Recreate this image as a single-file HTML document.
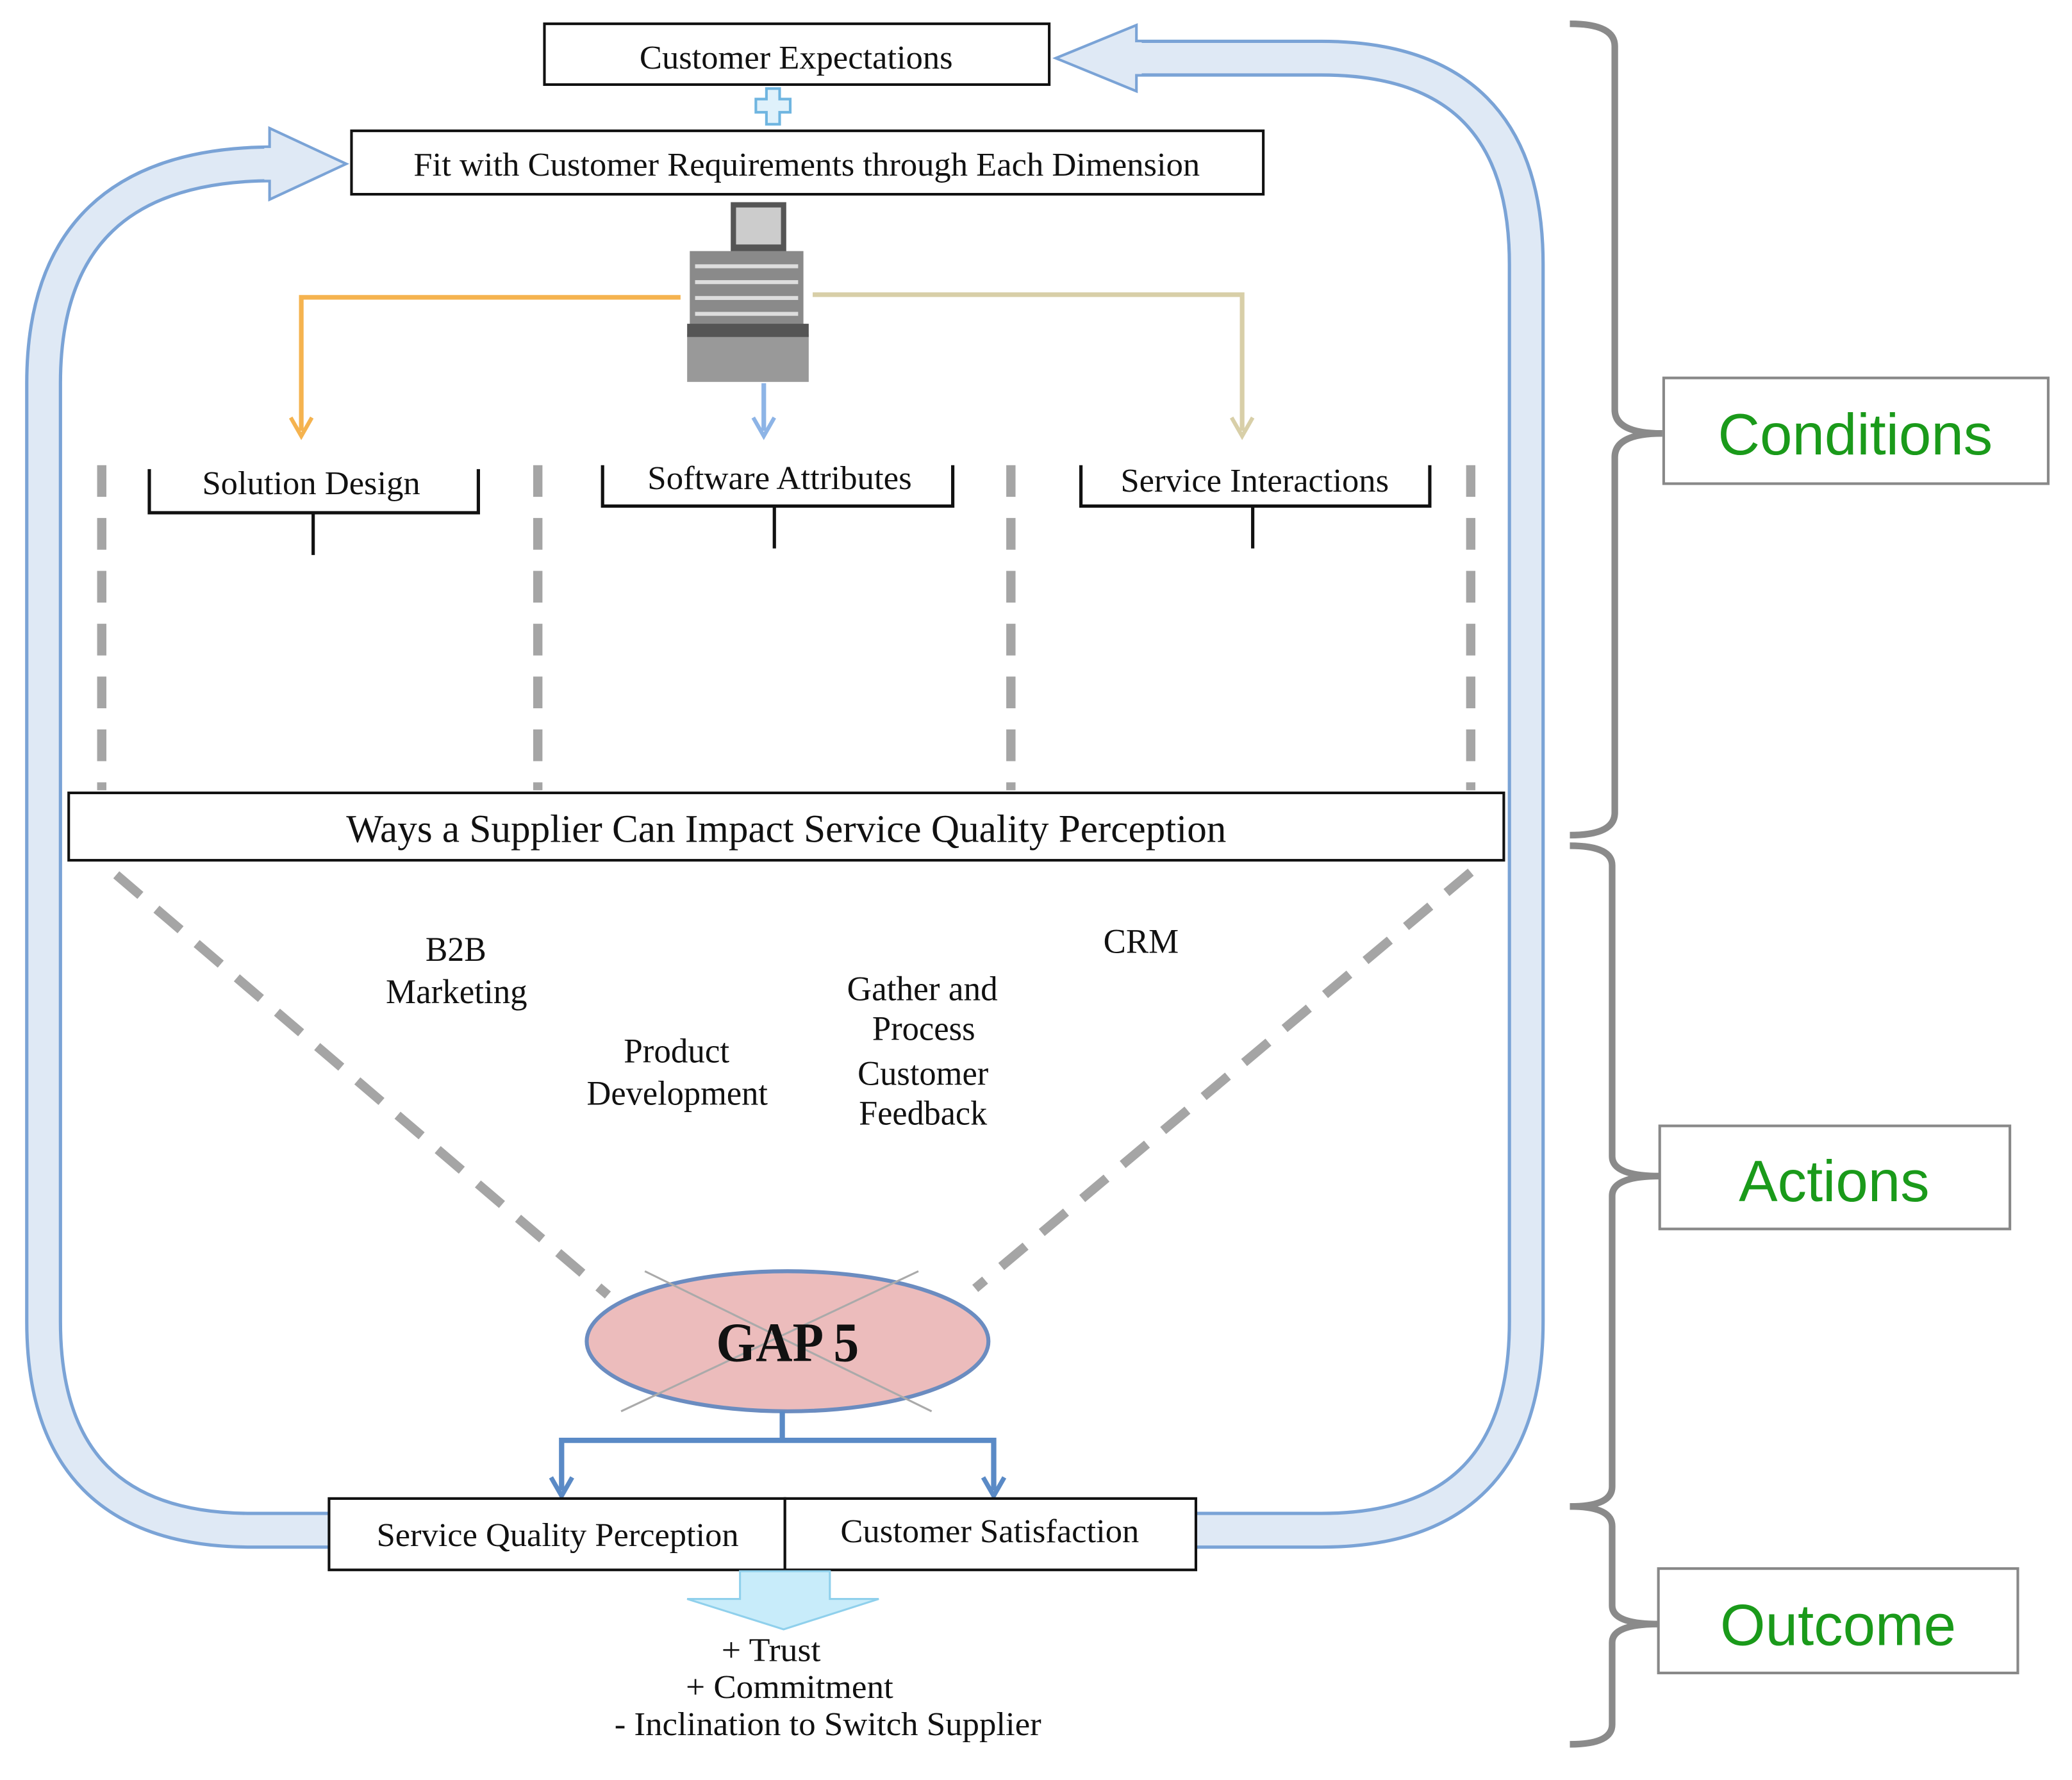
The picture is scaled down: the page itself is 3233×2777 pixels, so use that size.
<!DOCTYPE html>
<html><head><meta charset="utf-8"><style>html,body{margin:0;padding:0;background:#fff}svg{display:block}</style></head>
<body>
<svg width="3233" height="2777" viewBox="0 0 1568 1347" preserveAspectRatio="none" xmlns="http://www.w3.org/2000/svg">
<rect width="1568" height="1347" fill="#fff"/>
<g fill="none" stroke-linejoin="round">
<path d="M 858 44 H 1000 Q 1155 44 1155 200 V 1000 Q 1155 1158 1000 1158 H 905" stroke="#7aa3d6" stroke-width="28"/>
<path d="M 858 44 H 1000 Q 1155 44 1155 200 V 1000 Q 1155 1158 1000 1158 H 905" stroke="#dfe9f5" stroke-width="23"/>
<path d="M 207 124 Q 33 124 33 290 V 1000 Q 33 1158 190 1158 H 249" stroke="#7aa3d6" stroke-width="28"/>
<path d="M 207 124 Q 33 124 33 290 V 1000 Q 33 1158 190 1158 H 249" stroke="#dfe9f5" stroke-width="23"/>
</g>
<polygon points="799,44 860,19 860,69" fill="#dfe9f5" stroke="#7aa3d6" stroke-width="2"/>
<polygon points="262,124 204,97 204,151" fill="#dfe9f5" stroke="#7aa3d6" stroke-width="2"/>
<rect x="856" y="32" width="8" height="24" fill="#dfe9f5"/>
<rect x="200" y="112" width="8" height="24" fill="#dfe9f5"/>
<g font-family="Liberation Serif, serif" fill="#111" lengthAdjust="spacingAndGlyphs">
<rect x="412" y="18" width="382" height="46" fill="#fff" stroke="#111" stroke-width="2"/>
<text x="484" y="52" font-size="25" textLength="237" lengthAdjust="spacingAndGlyphs">Customer Expectations</text>
<polygon points="580,67 590,67 590,75 598,75 598,85 590,85 590,94 580,94 580,85 572,85 572,75 580,75" fill="#dff1fb" stroke="#6fb5e0" stroke-width="2"/>
<rect x="266" y="99" width="690" height="48" fill="#fff" stroke="#111" stroke-width="2"/>
<text x="313" y="133" font-size="25" textLength="595" lengthAdjust="spacingAndGlyphs">Fit with Customer Requirements through Each Dimension</text>
<rect x="553" y="153" width="42" height="38" fill="#555"/>
<rect x="557" y="157" width="34" height="28" fill="#ccc"/>
<rect x="522" y="190" width="86" height="62" fill="#8a8a8a"/>
<g fill="#ddd"><rect x="526" y="200" width="78" height="3"/><rect x="526" y="212" width="78" height="3"/><rect x="526" y="224" width="78" height="3"/><rect x="526" y="236" width="78" height="3"/></g>
<rect x="520" y="253" width="92" height="36" fill="#999"/>
<rect x="520" y="245" width="92" height="10" fill="#555"/>
<path d="M515 225 H228 V326" fill="none" stroke="#f5b34f" stroke-width="3.5"/>
<path d="M220 316 L228 330 L236 316" fill="none" stroke="#f5b34f" stroke-width="3"/>
<path d="M615 223 H940 V326" fill="none" stroke="#d8cfa8" stroke-width="3.5"/>
<path d="M932 316 L940 330 L948 316" fill="none" stroke="#d8cfa8" stroke-width="3"/>
<path d="M578 290 V326" stroke="#8db4e6" stroke-width="3.5"/>
<path d="M570 316 L578 330 L586 316" fill="none" stroke="#8db4e6" stroke-width="3"/>
<g fill="none" stroke="#111" stroke-width="2.5">
<path d="M113 355 V388 H362 V355 M237 388 V420"/>
<path d="M456 352 V383 H721 V352 M586 383 V415"/>
<path d="M818 352 V383 H1082 V352 M948 383 V415"/>
</g>
<text x="153" y="374" font-size="25" textLength="165" lengthAdjust="spacingAndGlyphs">Solution Design</text>
<text x="490" y="370" font-size="25" textLength="200" lengthAdjust="spacingAndGlyphs">Software Attributes</text>
<text x="848" y="372" font-size="25" textLength="203" lengthAdjust="spacingAndGlyphs">Service Interactions</text>
<g stroke="#a5a5a5" stroke-width="7" stroke-dasharray="24,16" fill="none">
<path d="M77 352 V598 M407 352 V598 M765 352 V598 M1113 352 V598"/>
<path d="M88 662 L460 980 M1113 660 L738 975"/>
</g>
<rect x="52" y="600" width="1086" height="51" fill="#fff" stroke="#111" stroke-width="2"/>
<text x="262" y="637" font-size="30" textLength="666" lengthAdjust="spacingAndGlyphs">Ways a Supplier Can Impact Service Quality Perception</text>
<g font-size="26">
<text x="322" y="727" textLength="46" lengthAdjust="spacingAndGlyphs">B2B</text>
<text x="292" y="759" textLength="107" lengthAdjust="spacingAndGlyphs">Marketing</text>
<text x="472" y="804" textLength="80" lengthAdjust="spacingAndGlyphs">Product</text>
<text x="444" y="836" textLength="137" lengthAdjust="spacingAndGlyphs">Development</text>
<text x="641" y="757" textLength="114" lengthAdjust="spacingAndGlyphs">Gather and</text>
<text x="660" y="787" textLength="78" lengthAdjust="spacingAndGlyphs">Process</text>
<text x="649" y="821" textLength="99" lengthAdjust="spacingAndGlyphs">Customer</text>
<text x="650" y="851" textLength="97" lengthAdjust="spacingAndGlyphs">Feedback</text>
<text x="835" y="721" textLength="57" lengthAdjust="spacingAndGlyphs">CRM</text>
</g>
<ellipse cx="596" cy="1015" rx="152" ry="53" fill="#ecbcbc" stroke="#6b8cc0" stroke-width="3"/>
<path d="M488 962 L705 1068 M695 962 L470 1068" stroke="#aaa" stroke-width="1.5"/>
<text x="542" y="1030" font-size="42" font-weight="bold" textLength="108" lengthAdjust="spacingAndGlyphs">GAP 5</text>
<path d="M592 1068 V1090 M425 1090 H752 M425 1088 V1128 M752 1088 V1128" stroke="#5a8ac6" stroke-width="4" fill="none"/>
<path d="M417 1118 L425 1132 L433 1118 M744 1118 L752 1132 L760 1118" stroke="#5a8ac6" stroke-width="3.5" fill="none"/>
<rect x="249" y="1134" width="345" height="54" fill="#fff" stroke="#111" stroke-width="2"/>
<rect x="594" y="1134" width="311" height="54" fill="#fff" stroke="#111" stroke-width="2"/>
<text x="285" y="1170" font-size="25" textLength="274" lengthAdjust="spacingAndGlyphs">Service Quality Perception</text>
<text x="636" y="1167" font-size="25" textLength="226" lengthAdjust="spacingAndGlyphs">Customer Satisfaction</text>
<polygon points="560,1189 628,1189 628,1210 665,1210 593,1233 520,1210 560,1210" fill="#c8ecfa" stroke="#8fd0ec" stroke-width="1.5"/>
<g font-size="25">
<text x="546" y="1257" textLength="75" lengthAdjust="spacingAndGlyphs">+ Trust</text>
<text x="519" y="1285" textLength="157" lengthAdjust="spacingAndGlyphs">+ Commitment</text>
<text x="465" y="1313" textLength="323" lengthAdjust="spacingAndGlyphs">- Inclination to Switch Supplier</text>
</g>
</g>
<g fill="none" stroke="#8a8a8a" stroke-width="5">
<path d="M1188 18 Q1222 18 1222 35 V310 Q1222 328 1258 328 Q1222 328 1222 346 V615 Q1222 632 1188 632"/>
<path d="M1188 640 Q1220 640 1220 655 V875 Q1220 890 1256 890 Q1220 890 1220 905 V1125 Q1220 1140 1188 1140"/>
<path d="M1188 1140 Q1220 1140 1220 1155 V1215 Q1220 1229 1255 1229 Q1220 1229 1220 1243 V1305 Q1220 1320 1188 1320"/>
</g>
<g stroke="#888" stroke-width="2" fill="#fff">
<rect x="1259" y="286" width="291" height="80"/>
<rect x="1256" y="852" width="265" height="78"/>
<rect x="1255" y="1187" width="272" height="79"/>
</g>
<g font-family="Liberation Sans, sans-serif" font-size="44" fill="#1a9a1a" text-anchor="middle">
<text x="1404" y="344">Conditions</text>
<text x="1388" y="909">Actions</text>
<text x="1391" y="1245">Outcome</text>
</g>
</svg>
</body></html>
